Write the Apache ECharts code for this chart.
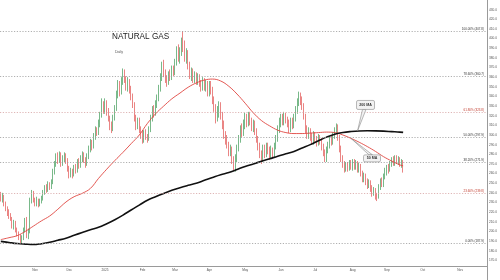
<!DOCTYPE html>
<html><head><meta charset="utf-8">
<script src="https://cdn.jsdelivr.net/npm/echarts@6/dist/echarts.min.js"></script>
<style>html,body{margin:0;padding:0;background:#fff}#c{width:500px;height:280px}</style>
</head><body><div id="c"></div>
<script>
// Daily candles per month: [open, close, low, high]
const oct24 = [[238,234,231,241],[234,236,230,240],[236,229,226,238],[229,224,221,231],[224,220,216,226],[220,217,213,223],[217,214,211,219],[214,206,203,215],[206,209,202,212],[209,202,199,211],[202,198,195,204],[198,194,191,200],[194,190,188,197],[190,193,187.9,196],[193,201,191,204],[201,212,199,214],[212,195,193,215],[196,199,192,203],[199,232,198,235],[232,240,229,243],[240,233,230,242]];
const nov24 = [[233,229,226,235],[229,232,226,236],[232,228,225,234],[228,231,226,234],[231,234,229,237],[234,240,232,243],[240,245,238,248],[245,243,240,249],[243,249,241,252],[249,246,243,251],[246,251,244,254],[251,262,249,265],[262,270,259,273],[270,277,267,281],[277,274,270,282],[274,280,271,283],[280,270,267,282],[270,276,268,279],[276,279,272,282],[279,274,270,281],[274,266,262,276]];
const dec24 = [[266,258,255,268],[258,262,256,266],[262,259,255,265],[259,266,257,269],[266,263,260,270],[263,272,261,275],[272,268,265,276],[268,276,266,279],[276,280,272,283],[280,274,271,282],[274,270,266,277],[270,278,268,281],[278,285,275,289],[285,292,282,296],[292,288,284,295],[288,298,286,302],[298,305,295,309],[305,303,299,308],[303,312,300,316],[312,320,308,324],[320,332,318,338],[332,326,322,335]];
const jan25 = [[326,332,322,338],[332,325,320,336],[325,318,314,328],[318,310,305,320],[310,306,302,314],[306,318,304,321],[318,328,315,331],[328,342,325,346],[342,352,338,357],[352,344,340,356],[344,356,342,360],[356,364,352,369],[364,358,354,368],[358,350,346,361],[350,356,345,360],[356,348,343,358],[348,340,336,351],[340,332,328,343],[332,318,314,334],[318,310,305,321],[310,315,306,318],[315,306,302,318],[306,300,296,309]];
const feb25 = [[300,294,291,305],[294,302,292,305],[302,298,295,306],[298,296,292,301],[296,306,294,309],[306,318,303,321],[318,326,314,330],[326,322,318,331],[322,332,320,336],[332,338,328,342],[338,348,335,352],[348,360,345,364],[360,372,356,376],[372,364,360,378],[364,358,354,368],[358,355,350,362],[355,362,352,366],[362,360,356,368],[360,368,357,372],[368,365,361,372]];
const mar25 = [[365,375,362,379],[375,388,372,392],[388,380,376,394],[380,386,374,391],[386,396,382,401],[396,390,386,407.8],[390,380,376,398],[380,384,374,390],[384,372,368,388],[372,362,358,376],[362,366,356,370],[366,358,354,369],[358,362,354,366],[362,356,352,365],[356,360,352,364],[360,354,350,363],[354,350,345,357],[350,356,346,360],[356,350,346,359],[350,352,345,357],[352,345,340,356]];
const apr25 = [[345,352,340,356],[352,346,342,356],[346,336,332,350],[336,328,324,340],[328,318,312,332],[318,325,314,330],[325,330,318,335],[330,320,316,334],[320,312,306,324],[312,300,296,315],[300,296,290,304],[296,290,286,300],[290,282,278,293],[282,285,278,290],[285,274,270,288],[274,268,263,278],[268,276,262,280],[276,286,272,290],[286,296,283,300],[296,306,292,310],[306,302,298,312],[302,312,299,316]];
const may25 = [[312,318,306,323],[318,312,308,322],[312,320,309,324],[320,314,310,324],[314,308,304,318],[308,312,303,316],[312,304,300,315],[304,296,292,307],[296,288,284,299],[288,280,276,292],[280,276,270,284],[276,286,272,290],[286,280,276,290],[280,288,277,292],[288,284,280,292],[284,278,274,288],[278,284,275,289],[284,280,276,287],[280,288,277,292],[288,296,285,300],[296,306,293,310],[306,312,302,318]];
const jun25 = [[312,318,308,322],[318,314,310,322],[314,320,310,324],[320,316,312,323],[316,312,308,319],[312,306,302,316],[306,314,303,318],[314,310,306,318],[310,318,307,322],[318,326,314,330],[326,334,322,338],[334,340,330,345],[340,336,331,344],[336,330,326,340],[330,320,316,333],[320,306,302,322],[306,300,296,310],[300,304,296,308],[304,298,294,307],[298,294,290,302],[294,300,290,304]];
const jul25 = [[300,296,292,303],[296,292,288,299],[292,298,289,301],[298,294,290,300],[294,288,284,297],[288,282,278,291],[282,276,272,285],[276,284,272,288],[284,290,281,293],[290,296,286,299],[296,293,289,300],[293,300,290,303],[300,305,296,308],[305,309,301,312],[309,298,294,311],[298,286,282,300],[286,276,272,289],[276,270,266,279],[270,265,261,273],[265,269,262,272],[269,266,262,272],[266,270,263,274],[270,267,264,274]];
const aug25 = [[267,272,263,275],[272,268,264,275],[268,270,264,274],[270,265,261,273],[265,268,261,271],[268,261,257,270],[261,255,251,263],[255,258,251,261],[258,252,248,260],[252,248,244,255],[248,251,245,254],[251,245,241,253],[245,240,236,248],[240,243,237,246],[243,237,233,245],[237,236,231.5,240],[236,246,234,249],[246,252,243,255],[252,249,246,256],[249,257,246,260],[257,262,254,266]];
const sep25 = [[262,266,258,269],[266,264,260,270],[264,270,262,273],[270,274,267,277],[274,271,268,278],[271,276,268,279],[276,273,270,279],[273,275,269,278],[275,270,267,277],[270,272,266,275],[272,264,261,274]];

// Moving averages, one sample every 5 sessions (last = final session)
const ma50Samples = [191.5,193.5,195.6,200.0,205.5,211.0,216.0,223.0,230.5,236.0,239.5,244.6,255.0,264.5,273.5,282.0,291.0,300.0,312.0,322.0,330.0,337.5,343.5,349.5,354.0,357.0,358.0,356.0,350.5,342.5,333.0,323.0,315.0,309.5,305.0,302.5,301.5,301.5,302.0,302.5,303.0,302.5,300.0,296.5,292.5,288.0,283.0,277.5,273.0,269.0,268.0];
const ma200Samples = [189.7,188.5,187.4,186.8,186.4,187.3,188.7,190.8,193.0,196.0,198.9,201.8,204.3,208.0,212.1,216.9,222.2,227.3,232.4,236.0,239.4,242.6,245.4,247.8,250.0,253.0,256.0,258.8,261.0,264.2,267.4,270.0,272.7,275.3,278.0,280.5,283.0,286.5,290.0,294.0,297.8,300.8,302.6,303.6,304.2,304.4,304.3,304.0,303.5,303.0,302.7];
const sampleStep = 5;

// Fibonacci retracement levels
const fibPcts = ['0.00%','23.60%','38.20%','50.00%','61.80%','78.60%','100.00%'];
const fibValues = [187.9,239.8,271.9,297.9,323.8,360.7,407.8];

const monthNames = ['Jan','Feb','Mar','Apr','May','Jun','Jul','Aug','Sep','Oct','Nov','Dec'];
const startDate = '2024-10-03', endDate = '2025-11-25';

// ---- build ----
const candles = [].concat(oct24,nov24,dec24,jan25,feb25,mar25,apr25,may25,jun25,jul25,aug25,sep25);
const cats = [];
for (let d = new Date(startDate+'T00:00:00Z'); d <= new Date(endDate+'T00:00:00Z'); d.setUTCDate(d.getUTCDate()+1)) {
  const w = d.getUTCDay(); if (w===0||w===6) continue;
  cats.push(d.toISOString().slice(0,10));
}
const last = candles.length-1;
const toPts = arr => arr.map((v,k)=>[k<arr.length-1 ? k*sampleStep : last, v]);
const ma50 = toPts(ma50Samples), ma200 = toPts(ma200Samples);
const lastClose = candles[last][1];

const UP='#1f8a3b', DOWN='#dc3330';
const chart = echarts.init(document.getElementById('c'), null, {renderer:'canvas'});
const fibRed = p => (p==='23.60%'||p==='61.80%');
chart.setOption({
  animation:false,
  backgroundColor:'#fff',
  grid:{left:0,right:12,top:-4,bottom:10},
  xAxis:{type:'category',data:cats,boundaryGap:true,offset:-4,
    axisLine:{lineStyle:{color:'#9a9a9a',width:1}},axisTick:{show:false},
    axisLabel:{fontSize:3.2,color:'#555',margin:3,
      interval:(i,v)=> i>0 && cats[i].slice(5,7)!==cats[i-1].slice(5,7),
      formatter:v=>{const m=+v.slice(5,7)-1;return m===0?v.slice(0,4):monthNames[m];}},
    splitLine:{show:false}},
  yAxis:{type:'value',position:'right',min:160,max:440,interval:10,scale:true,
    axisLine:{show:true,lineStyle:{color:'#9a9a9a',width:1}},axisTick:{show:false},
    splitLine:{show:false},
    axisLabel:{fontSize:3.2,color:'#555',margin:2,showMinLabel:false,showMaxLabel:false,formatter:v=>v.toFixed(1)}},
  series:[
    {type:'candlestick',data:candles,barWidth:1.3,
     itemStyle:{color:UP,color0:DOWN,borderColor:UP,borderColor0:DOWN,borderWidth:0.6},
     markLine:{silent:true,symbol:'none',animation:false,
       data:fibValues.map((v,k)=>({yAxis:v,
         lineStyle:{type:[1.2,1.6],color:fibRed(fibPcts[k])?'#d7a3a3':'#9c9c9c',width:0.8},
         label:{show:true,position:'insideEndTop',distance:[3,0.6],fontSize:3,color:fibRed(fibPcts[k])?'#c0392b':'#333',
           formatter:fibPcts[k]+' ('+v.toFixed(1)+')'}})).concat([
         {yAxis:lastClose,lineStyle:{opacity:0},label:{show:true,position:'end',distance:1,fontSize:3.4,color:'#fff',
           backgroundColor:UP,padding:[0.8,1.4],formatter:lastClose.toFixed(1)}}])}},
    {type:'line',data:ma50,smooth:0.4,connectNulls:true,showSymbol:false,z:3,
     lineStyle:{color:'#e0453f',width:0.9},
     markLine:{silent:true,symbol:'none',data:[{yAxis:ma50Samples[ma50Samples.length-1],lineStyle:{opacity:0},
       label:{show:true,position:'end',distance:1,fontSize:3.4,color:'#fff',backgroundColor:'#e53935',padding:[0.8,1.4],
         formatter:ma50Samples[ma50Samples.length-1].toFixed(1)}}]}},
    {type:'line',data:ma200,smooth:0.4,connectNulls:true,showSymbol:false,z:4,
     lineStyle:{color:'#111',width:1.6},
     markLine:{silent:true,symbol:'none',data:[{yAxis:ma200Samples[ma200Samples.length-1],lineStyle:{opacity:0},
       label:{show:true,position:'end',distance:1,fontSize:3.4,color:'#fff',backgroundColor:'#111',padding:[0.8,1.4],
         formatter:ma200Samples[ma200Samples.length-1].toFixed(1)}}]}}
  ]
});

// callouts anchored on the MA lines
function callout(idx, val, dx, dy, w, h, text){
  const p = chart.convertToPixel({seriesIndex:0},[idx,val]);
  const cx=p[0]+dx, cy=p[1]+dy;
  const by = dy<0 ? cy+h/2 : cy-h/2;
  return [
    {type:'polygon',shape:{points:[[p[0],p[1]],[cx-3,by],[cx+0.5,by]]},style:{fill:'#f2f2f2',stroke:'#8a8a8a',lineWidth:0.6},z:10},
    {type:'rect',shape:{x:cx-w/2,y:cy-h/2,width:w,height:h,r:1.5},style:{fill:'#f2f2f2',stroke:'#8a8a8a',lineWidth:0.6},z:11},
    {type:'text',x:cx,y:cy,style:{text:text,fontSize:3.6,fontWeight:'bold',fill:'#333',align:'center',verticalAlign:'middle'},z:12}
  ];
}
const axisX = chart.convertToPixel({seriesIndex:0},[cats.length-1,300])[0] + 0.8;
chart.setOption({graphic:[
  {type:'text',left:112,top:33,style:{text:'NATURAL GAS',fontSize:8.2,fill:'#222',fontFamily:'Liberation Sans, Arial, sans-serif'}},
  {type:'text',left:115,top:50,style:{text:'Daily',fontSize:3.6,fill:'#555'}},
  {type:'line',shape:{x1:Math.round(axisX)+0.5,y1:266,x2:Math.round(axisX)+0.5,y2:280},style:{stroke:'#9a9a9a',lineWidth:1}}
].concat(callout(219, 304.2, 8, -26, 18, 9, '200 MA'), callout(215, 296.5, 21, 20, 17, 7, '50 MA'))});
</script></body></html>
